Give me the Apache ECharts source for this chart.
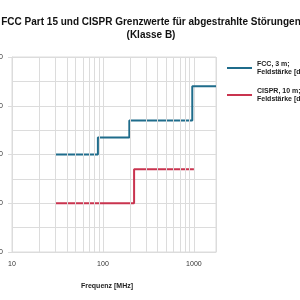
<!DOCTYPE html>
<html>
<head>
<meta charset="utf-8">
<script src="https://cdn.jsdelivr.net/npm/echarts@6/dist/echarts.min.js"></script>
<style>
  html, body { margin: 0; padding: 0; background: #fff; }
  #main { width: 300px; height: 300px; }
</style>
</head>
<body>
<div id="main"></div>
<script>
// FCC Klasse B, 3 m
const fccFreq = [30, 88, 195, 960, 1750];
const fccLimit = [40, 43.5, 47, 54, 54];
// CISPR Klasse B, 10 m
const cisprFreq = [30, 220, 1000];
const cisprLimit = [30, 37, 37];

const xTicks = [10, 100, 1000];
const minorFreqs = [20, 30, 40, 50, 60, 70, 80, 90, 200, 300, 400, 500, 600, 700, 800, 900];
const seriesNames = ['FCC, 3 m;\nFeldstärke [dBµV/m]', 'CISPR, 10 m;\nFeldstärke [dBµV/m]'];

const gridColor = '#dcdcdc';

const option = {
    animation: false,
    backgroundColor: '#fff',
    title: {
        text: 'FCC Part 15 und CISPR Grenzwerte für abgestrahlte Störungen\n(Klasse B)',
        left: 146,
        top: 11,
        textAlign: 'center',
        textStyle: {
            fontFamily: 'Liberation Sans',
            fontSize: 10,
            fontWeight: 'bold',
            lineHeight: 13,
            color: '#111'
        }
    },
    legend: {
        orient: 'vertical',
        left: 222,
        top: 55,
        itemWidth: 25,
        itemHeight: 2,
        itemGap: 11,
        icon: 'rect',
        data: seriesNames,
        textStyle: {
            fontFamily: 'Liberation Sans',
            fontSize: 7,
            fontWeight: 'bold',
            lineHeight: 8,
            color: '#222'
        }
    },
    grid: {
        left: 12,
        right: 84,
        top: 57,
        bottom: 48,
        outerBoundsMode: 'none',
        containLabel: false,
        show: true,
        borderColor: gridColor,
        borderWidth: 1
    },
    xAxis: {
        type: 'log',
        logBase: 10,
        min: 10,
        max: 1750,
        name: 'Frequenz [MHz]',
        nameLocation: 'middle',
        nameGap: 31,
        nameTextStyle: {
            fontFamily: 'Liberation Sans',
            fontSize: 7,
            fontWeight: 'bold',
            color: '#222',
            padding: [0, 14, 0, 0]
        },
        axisLine: { lineStyle: { color: gridColor } },
        axisTick: { show: false },
        splitLine: { show: true, lineStyle: { color: gridColor } },
        axisLabel: {
            fontFamily: 'Liberation Sans',
            fontSize: 7,
            color: '#333',
            margin: 9,
            showMaxLabel: false,
            formatter: v => {
                const r = Math.round(v);
                return xTicks.includes(r) ? String(r) : '';
            }
        }
    },
    yAxis: {
        type: 'value',
        min: 20,
        max: 60,
        interval: 10,
        axisLine: { show: true, lineStyle: { color: gridColor } },
        axisTick: { show: true, length: 4, lineStyle: { color: gridColor } },
        minorTick: { show: false, splitNumber: 2 },
        splitLine: { lineStyle: { color: gridColor } },
        minorSplitLine: { show: true, lineStyle: { color: gridColor } },
        axisLabel: {
            fontFamily: 'Liberation Sans',
            fontSize: 7,
            color: '#333',
            margin: 9
        }
    },
    series: [
        {
            name: 'grid',
            type: 'line',
            data: [],
            silent: true,
            z: 1,
            markLine: {
                silent: true,
                symbol: ['none', 'none'],
                label: { show: false },
                lineStyle: { color: gridColor, type: 'solid', width: 1 },
                data: minorFreqs.map(f => ({ xAxis: f }))
            }
        },
        {
            name: seriesNames[0],
            type: 'line',
            step: 'end',
            showSymbol: false,
            z: 3,
            color: '#1f6c8b',
            lineStyle: { width: 2, color: '#1f6c8b' },
            data: fccFreq.map((f, i) => [f, fccLimit[i]])
        },
        {
            name: seriesNames[1],
            type: 'line',
            step: 'end',
            showSymbol: false,
            z: 3,
            color: '#c9344f',
            lineStyle: { width: 2, color: '#c9344f' },
            data: cisprFreq.map((f, i) => [f, cisprLimit[i]])
        }
    ]
};

const myChart = echarts.init(document.getElementById('main'));
myChart.setOption(option);
</script>
</body>
</html>
